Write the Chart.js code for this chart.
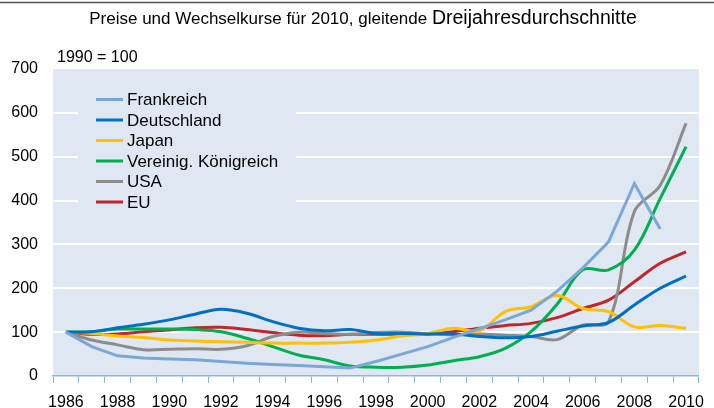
<!DOCTYPE html>
<html><head><meta charset="utf-8">
<script src="https://cdn.jsdelivr.net/npm/chart.js@4"></script>
<style>html,body{margin:0;padding:0;background:#fff}#wrap{width:714px;height:408px;position:relative}</style>
</head><body><div id="wrap"><canvas id="c" width="714" height="408"></canvas></div>
<script>
const years = [1986,1987,1988,1989,1990,1991,1992,1993,1994,1995,1996,1997,1998,1999,2000,2001,2002,2003,2004,2005,2006,2007,2008,2009,2010];
const frankreich   = [100,67,46,41,39,37,33,29,26,24,21,18,33,50,67,88,108,128,150,193,246,306,439,335,null];
const deutschland  = [100,101,110,118,128,141,152,143,124,109,103,106,97,97,96,96,90,87,90,102,114,122,162,200,228];
const japan        = [100,97,91,88,82,80,78,77,75,75,75,77,82,91,97,109,103,147,158,184,154,147,112,115,109];
const vereinigtesK = [100,101,107,107,107,106,101,86,67,48,37,23,20,20,25,35,44,63,101,163,242,242,287,405,523];
const usa          = [100,82,71,60,61,62,61,69,90,100,97,95,99,100,96,94,96,93,90,83,116,124,375,435,576];
const eu           = [100,95,96,101,105,110,111,106,99,93,92,95,95,95,96,101,109,115,120,133,154,173,215,257,283];
const seriesNames  = ["Frankreich","Deutschland","Japan","Vereinig. Königreich","USA","EU"];
const yTicks = [0,100,200,300,400,500,600,700];
const titleParts = ["Preise und Wechselkurse für 2010, gleitende ","Dreijahresdurchschnitte"];
const baseNote = "1990 = 100";

const colors = ["#7BA7D6","#0070C0","#FFC000","#00B050","#8C8C8C","#C0272D"];
const values = [frankreich,deutschland,japan,vereinigtesK,usa,eu];
const FONT = "'Liberation Sans', Arial, sans-serif";
const PLOTBG = "#DFE7F3";

const datasets = values.map((v,i)=>({
  label: seriesNames[i], data: v, borderColor: colors[i], backgroundColor: colors[i],
  borderWidth: 3, pointRadius: 0, fill: false, spanGaps: false,
  tension: i===0 ? 0 : 0.35
}));

const decor = {
  id:'decor',
  beforeDraw(chart){
    const {ctx, chartArea:a} = chart;
    ctx.save();
    ctx.fillStyle = '#fff'; ctx.fillRect(0,0,chart.width,chart.height);
    ctx.fillStyle = PLOTBG; ctx.fillRect(a.left,a.top,a.right-a.left,a.bottom-a.top);
    ctx.strokeStyle = '#555'; ctx.lineWidth = 1.5;
    ctx.beginPath(); ctx.moveTo(0,2.5); ctx.lineTo(chart.width,2.5); ctx.stroke();
    ctx.fillStyle = '#000'; ctx.textBaseline = 'alphabetic';
    ctx.font = "17px " + FONT; const w1 = ctx.measureText(titleParts[0]).width;
    ctx.font = "19.5px " + FONT; const w2 = ctx.measureText(titleParts[1]).width;
    let x0 = 363 - (w1+w2)/2;
    ctx.font = "17px " + FONT; ctx.textAlign='left'; ctx.fillText(titleParts[0], x0, 24);
    ctx.font = "19.5px " + FONT; ctx.fillText(titleParts[1], x0+w1, 24);
    ctx.font = "16px " + FONT; ctx.fillText(baseNote, 57, 62);
    ctx.restore();
  },
  beforeDatasetsDraw(chart){
    const {ctx} = chart;
    ctx.save();
    ctx.fillStyle = PLOTBG; ctx.fillRect(78,84,218,132);
    ctx.font = "17px " + FONT; ctx.textBaseline='middle'; ctx.textAlign='left';
    seriesNames.forEach((n,i)=>{
      const y = 99.5 + i*20.5;
      ctx.strokeStyle = colors[i]; ctx.lineWidth = 3;
      ctx.beginPath(); ctx.moveTo(96,y); ctx.lineTo(123,y); ctx.stroke();
      ctx.fillStyle = '#000'; ctx.fillText(n,127,y+1);
    });
    ctx.restore();
  }
};

new Chart(document.getElementById('c'), {
  type:'line',
  data:{ labels: years.map(String), datasets },
  options:{
    responsive:false, animation:false, devicePixelRatio:1,
    layout:{ padding:{ top:69, right:7, left:0, bottom:0 } },
    plugins:{ legend:{display:false}, title:{display:false}, tooltip:{enabled:false} },
    scales:{
      x:{
        type:'category', offset:true,
        grid:{ offset:true, drawOnChartArea:false, drawTicks:true, tickLength:7, color:'#8EB4E3', lineWidth:1 },
        border:{ display:true, color:'#8EB4E3', width:1.5 },
        ticks:{ autoSkip:false, maxRotation:0, minRotation:0, padding:10, color:'#000',
          font:{ family:FONT, size:16 },
          callback:function(v,i){ const y = years[i]; return (y%2===0) ? String(y) : ''; } },
        afterFit(s){ s.height = 32; }
      },
      y:{
        min:0, max:700,
        afterBuildTicks(s){ s.ticks = yTicks.map(v=>({value:v})); },
        grid:{ drawTicks:false, lineWidth:2,
          color:(c)=> (c.tick && c.tick.value>0 && c.tick.value<700) ? '#FFFFFF' : 'rgba(0,0,0,0)' },
        border:{ display:false },
        ticks:{ padding:15, color:'#000', font:{ family:FONT, size:16 } },
        afterFit(s){ s.width = 53; }
      }
    }
  },
  plugins:[decor]
});
</script></body></html>
